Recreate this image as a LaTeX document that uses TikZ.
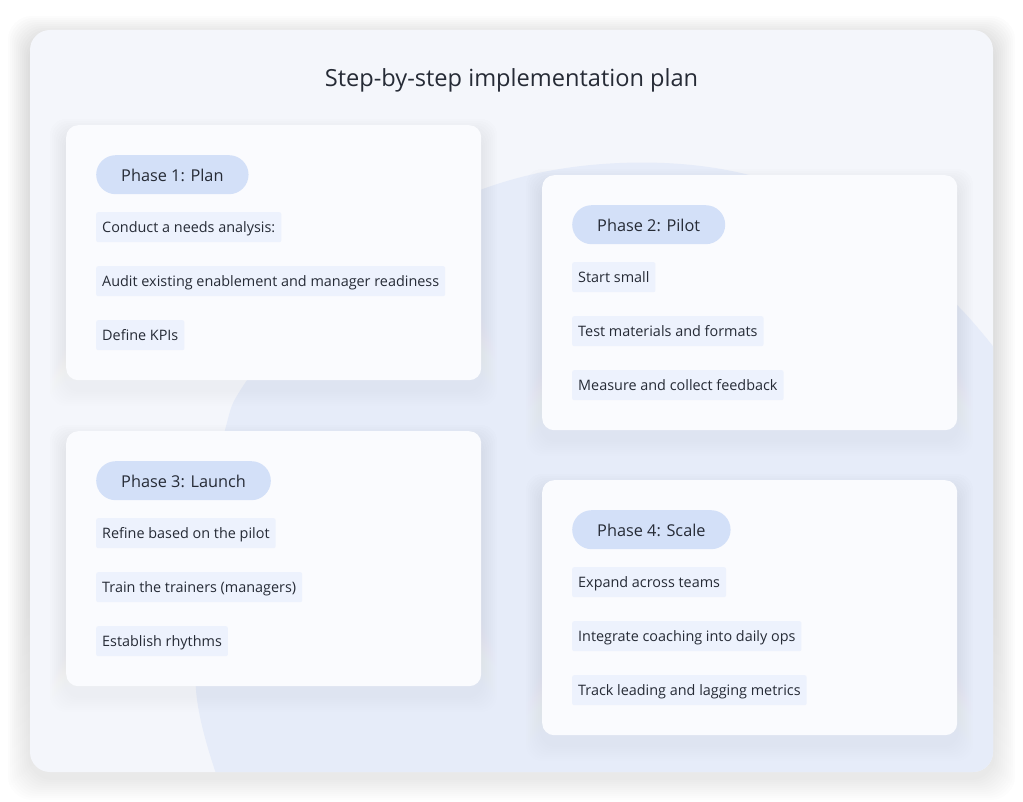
\documentclass[tikz,border=0pt]{standalone}
\usepackage{fontspec}
\setmainfont{Open Sans}
\usepackage{xcolor}
\definecolor{ink}{HTML}{262B36}
\definecolor{panel}{HTML}{F4F6FB}
\definecolor{blob}{HTML}{E6ECF9}
\definecolor{card}{HTML}{FAFBFE}
\definecolor{pillfill}{HTML}{D3E0F8}
\definecolor{itemfill}{HTML}{EDF2FD}
\definecolor{shade}{HTML}{5A6478}
\tikzset{
  panelbox/.style={fill=panel, rounded corners=20pt},
  cardbox/.style={fill=card, rounded corners=12pt, anchor=north west, inner sep=0pt,
    minimum width=415pt, minimum height=255pt},
  tag/.style={fill=pillfill, rounded corners=19.5pt, anchor=north west, text=ink,
    inner xsep=25pt, inner ysep=0pt, minimum height=39pt, text height=13pt, text depth=0pt,
    font=\fontsize{16.3}{20}\selectfont},
  item/.style={fill=itemfill, rounded corners=2pt, anchor=north west, text=ink,
    inner xsep=6pt, inner ysep=0pt, minimum height=30pt, text height=11pt, text depth=1pt,
    font=\fontsize{14.4}{16}\selectfont},
  heading/.style={text=ink, font=\fontsize{23.6}{28}\selectfont},
}

\begin{document}
\begin{tikzpicture}[x=1pt,y=-1pt]
  \useasboundingbox[fill=white] (0,0) rectangle (1023,802);

  % outer panel with soft shadow
  \foreach \s in {2,4,...,22}
    \fill[shade, opacity=0.008, rounded corners=24pt] (30-\s,30-\s+8) rectangle (993+\s,772+\s+6);
  \fill[panelbox] (30,30) rectangle (993,772);
  \begin{scope}
    \clip[rounded corners=20pt] (30,30) rectangle (993,772);
    \fill[blob] plot[smooth, tension=0.6] coordinates {(222,790) (196,690) (203,540) (225,430)
      (247,380) (330,270) (480,190) (620,163) (760,178) (880,240) (957,305) (1010,368)}
      -- (1010,790) -- cycle;
  \end{scope}

  \node[heading] (title) at (511.5,80) {Step-by-step implementation plan};

  % card shadows
  \foreach \cx/\cy in {66/125, 542/175, 66/431, 542/480}
    \foreach \s in {2,4,...,16}
      \fill[shade, opacity=0.005, rounded corners=16pt]
        (\cx-\s,\cy-\s+10) rectangle (\cx+415+\s,\cy+255+\s+10);

  % phase 1
  \node[cardbox] (plan) at (66,125) {};
  \node[tag] (planTag) at (96,155) {Phase 1: Plan};
  \node[item] (planA) at (96,212) {Conduct a needs analysis:};
  \node[item] (planB) at (96,266) {Audit existing enablement and manager readiness};
  \node[item] (planC) at (96,320) {Define KPIs};

  % phase 2
  \node[cardbox] (pilot) at (542,175) {};
  \node[tag] (pilotTag) at (572,205) {Phase 2: Pilot};
  \node[item] (pilotA) at (572,262) {Start small};
  \node[item] (pilotB) at (572,316) {Test materials and formats};
  \node[item] (pilotC) at (572,370) {Measure and collect feedback};

  % phase 3
  \node[cardbox] (launch) at (66,431) {};
  \node[tag] (launchTag) at (96,461) {Phase 3: Launch};
  \node[item] (launchA) at (96,518) {Refine based on the pilot};
  \node[item] (launchB) at (96,572) {Train the trainers (managers)};
  \node[item] (launchC) at (96,626) {Establish rhythms};

  % phase 4
  \node[cardbox] (scale) at (542,480) {};
  \node[tag] (scaleTag) at (572,510) {Phase 4: Scale};
  \node[item] (scaleA) at (572,567) {Expand across teams};
  \node[item] (scaleB) at (572,621) {Integrate coaching into daily ops};
  \node[item] (scaleC) at (572,675) {Track leading and lagging metrics};
\end{tikzpicture}
\end{document}
